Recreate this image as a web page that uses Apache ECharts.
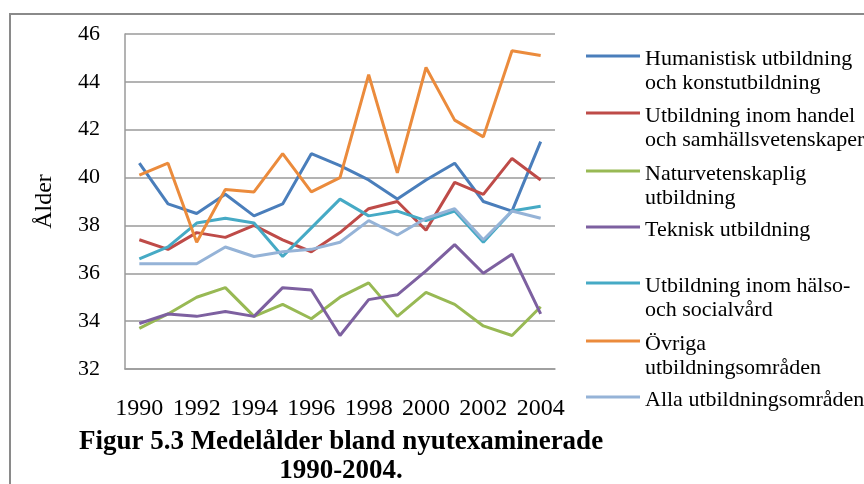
<!DOCTYPE html>
<html>
<head>
<meta charset="UTF-8"/>
<title>Medelålder bland nyutexaminerade</title>
<script src="https://cdn.jsdelivr.net/npm/echarts@6/dist/echarts.min.js"></script>
<style>
  html, body { margin: 0; padding: 0; background: #fff; }
  #chart { width: 864px; height: 484px; }
</style>
</head>
<body>
<div id="chart"></div>
<script>
var years = ['1990', '1991', '1992', '1993', '1994', '1995', '1996', '1997',
             '1998', '1999', '2000', '2001', '2002', '2003', '2004'];

var humanistisk = [40.6, 38.9, 38.5, 39.3, 38.4, 38.9, 41.0, 40.5, 39.9, 39.1, 39.9, 40.6, 39.0, 38.6, 41.5];
var handel      = [37.4, 37.0, 37.7, 37.5, 38.0, 37.4, 36.9, 37.7, 38.7, 39.0, 37.8, 39.8, 39.3, 40.8, 39.9];
var natur       = [33.7, 34.3, 35.0, 35.4, 34.2, 34.7, 34.1, 35.0, 35.6, 34.2, 35.2, 34.7, 33.8, 33.4, 34.6];
var teknisk     = [33.9, 34.3, 34.2, 34.4, 34.2, 35.4, 35.3, 33.4, 34.9, 35.1, 36.1, 37.2, 36.0, 36.8, 34.3];
var halso       = [36.6, 37.1, 38.1, 38.3, 38.1, 36.7, 37.9, 39.1, 38.4, 38.6, 38.2, 38.6, 37.3, 38.6, 38.8];
var ovriga      = [40.1, 40.6, 37.3, 39.5, 39.4, 41.0, 39.4, 40.0, 44.3, 40.2, 44.6, 42.4, 41.7, 45.3, 45.1];
var alla        = [36.4, 36.4, 36.4, 37.1, 36.7, 36.9, 37.0, 37.3, 38.2, 37.6, 38.3, 38.7, 37.4, 38.6, 38.3];

var seriesNames = [
  'Humanistisk utbildning\noch konstutbildning',
  'Utbildning inom handel\noch samhällsvetenskaper',
  'Naturvetenskaplig\nutbildning',
  'Teknisk utbildning',
  'Utbildning inom hälso-\noch socialvård',
  'Övriga\nutbildningsområden',
  'Alla utbildningsområden'
];
var seriesData = [humanistisk, handel, natur, teknisk, halso, ovriga, alla];
var colors = ['#4a7ebb', '#be4b48', '#98b954', '#7d60a0', '#46aac5', '#eb8b3c', '#95b3d7'];

var serif = '"Liberation Serif", "Times New Roman", serif';
var gridColor = '#9a9a9a';

// legend icon centres (y) down the right side
var legendY = [56, 113, 171, 227, 283, 341, 397];
var LH = 24;

// icon box as tall as the text; the bar sits beside the first line
function legendIcon(lines) {
  var h = lines * LH;
  return 'path://M0,0L0,0.01M0,7.5L54,7.5L54,10.5L0,10.5ZM0,' + (h - 0.01) + 'L0,' + h;
}

var chart = echarts.init(document.getElementById('chart'));

var legends = seriesNames.map(function (name, i) {
  var lines = name.split('\n').length;
  return {
    data: [name],
    left: 586,
    top: legendY[i] - 9,
    padding: 0,
    icon: legendIcon(lines),
    itemWidth: 54,
    itemHeight: lines * LH,
    textStyle: {
      fontFamily: serif,
      fontSize: 22,
      lineHeight: LH,
      color: '#000'
    }
  };
});

var series = seriesNames.map(function (name, i) {
  return {
    name: name,
    type: 'line',
    data: seriesData[i],
    showSymbol: false,
    symbol: 'none',
    lineStyle: { width: 3, color: colors[i] },
    itemStyle: { color: colors[i] },
    emphasis: { disabled: true },
    animation: false
  };
});

var option = {
  backgroundColor: '#fff',
  animation: false,
  title: {
    text: 'Figur 5.3 Medelålder bland nyutexaminerade\n1990-2004.',
    left: 341,
    top: 428,
    textAlign: 'center',
    padding: 0,
    textStyle: {
      fontFamily: serif,
      fontWeight: 'bold',
      fontSize: 27,
      lineHeight: 29,
      color: '#000'
    }
  },
  graphic: [{
    type: 'rect',
    shape: { x: 10, y: 14, width: 900, height: 500 },
    style: { fill: 'none', stroke: '#8a8a8a', lineWidth: 2 },
    silent: true
  }],
  legend: legends,
  grid: { left: 125, right: 309, top: 34, bottom: 115 },
  xAxis: {
    type: 'category',
    data: years,
    boundaryGap: true,
    axisTick: { show: false },
    axisLine: { lineStyle: { color: gridColor, width: 1.5 } },
    axisLabel: {
      interval: 1,
      margin: 28,
      fontFamily: serif,
      fontSize: 24,
      color: '#000'
    }
  },
  yAxis: {
    type: 'value',
    min: 32,
    max: 46,
    interval: 2,
    name: 'Ålder',
    nameLocation: 'middle',
    nameRotate: 90,
    nameGap: 68,
    nameTextStyle: { fontFamily: serif, fontSize: 24, color: '#000' },
    axisLine: { show: true, lineStyle: { color: gridColor, width: 1.5 } },
    axisTick: { show: false },
    splitLine: { lineStyle: { color: gridColor, width: 1.5 } },
    axisLabel: {
      margin: 25,
      fontFamily: serif,
      fontSize: 22,
      color: '#000'
    }
  },
  series: series
};

chart.setOption(option);
</script>
</body>
</html>
